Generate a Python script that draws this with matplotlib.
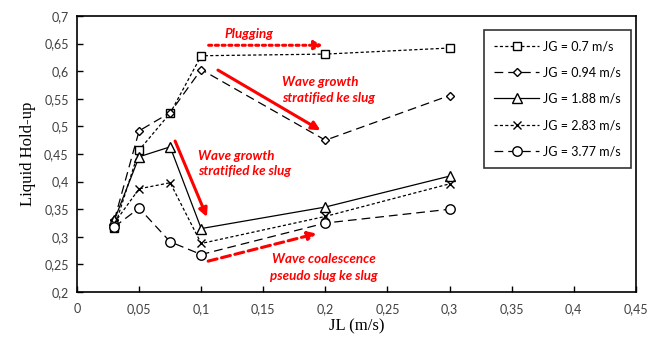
import numpy as np
import matplotlib
matplotlib.use('Agg')
import matplotlib.pyplot as plt
from matplotlib.ticker import FuncFormatter

# superficial liquid velocity (m/s)
jl = [0.03, 0.05, 0.075, 0.1, 0.2, 0.3]

# liquid hold-up per gas velocity
hl_070 = [0.316, 0.457, 0.524, 0.628, 0.631, 0.642]
hl_094 = [0.330, 0.492, 0.525, 0.603, 0.475, 0.556]
hl_188 = [0.330, 0.445, 0.463, 0.315, 0.354, 0.410]
hl_283 = [0.325, 0.387, 0.398, 0.288, 0.337, 0.396]
hl_377 = [0.318, 0.352, 0.291, 0.268, 0.325, 0.350]

labels = ['JG = 0.7 m/s', 'JG = 0.94 m/s', 'JG = 1.88 m/s', 'JG = 2.83 m/s', 'JG = 3.77 m/s']

x_ticks = [0, 0.05, 0.1, 0.15, 0.2, 0.25, 0.3, 0.35, 0.4, 0.45]
y_ticks = [0.2, 0.25, 0.3, 0.35, 0.4, 0.45, 0.5, 0.55, 0.6, 0.65, 0.7]

plt.rcParams['font.family'] = ['Lato', 'DejaVu Sans']

fig = plt.figure(figsize=(6.61, 3.44), dpi=100)
ax = fig.add_axes([0.1165, 0.151, 0.8455, 0.8025])

fine = (0, (2.5, 1.8))
longd = (0, (7, 4))
# series styles: (data, marker, markersize, linestyle)
styles = [
    (hl_070, 's', 6, fine),
    (hl_094, 'D', 4.3, longd),
    (hl_188, '^', 6.8, '-'),
    (hl_283, 'x', 5.5, fine),
    (hl_377, 'o', 6.8, longd),
]
for (data, mk, ms, ls), lab in zip(styles, labels):
    ax.plot(jl, data, color='black', linestyle=ls, linewidth=0.9, marker=mk,
            markersize=ms, markerfacecolor='white', markeredgecolor='black',
            markeredgewidth=1.0, label=lab)

ax.set_xlim(0, 0.45)
ax.set_ylim(0.2, 0.7)
ax.set_xticks(x_ticks)
ax.set_yticks(y_ticks)
comma = FuncFormatter(lambda v, p: ('%g' % round(v, 3)).replace('.', ','))
ax.xaxis.set_major_formatter(comma)
ax.yaxis.set_major_formatter(comma)
ax.tick_params(direction='in', length=4, width=1, labelsize=9, colors='black')
ax.tick_params(axis='x', pad=8)
ax.tick_params(axis='y', pad=6)
ax.tick_params(labelcolor='#404040')
for s in ax.spines.values():
    s.set_linewidth(1.2)

ax.set_xlabel('JL (m/s)', fontsize=12, family='Liberation Serif', labelpad=2)
ax.set_ylabel('Liquid Hold-up', fontsize=12, family='Liberation Serif', labelpad=6)

leg = ax.legend(loc='upper right', bbox_to_anchor=(0.991, 0.949), fontsize=9,
                frameon=True, fancybox=False, edgecolor='black', handlelength=3.6,
                handletextpad=0.3, labelspacing=1.15, borderpad=0.8,
                borderaxespad=0)
leg.get_frame().set_linewidth(1.2)

red = '#ff0000'
tkw = dict(color=red, fontsize=9.6, fontweight='bold', fontstyle='italic')

# plugging
ax.annotate('', xy=(0.198, 0.647), xytext=(0.106, 0.647),
            arrowprops=dict(arrowstyle='-|>,head_length=0.5,head_width=0.25', color=red,
                            lw=2.2, linestyle=(0, (1, 1.2)), shrinkA=0, shrinkB=0))
ax.text(0.119, 0.667, 'Plugging', ha='left', va='center', **tkw)

# upper wave growth
ax.annotate('', xy=(0.196, 0.493), xytext=(0.1135, 0.602),
            arrowprops=dict(arrowstyle='-|>,head_length=0.5,head_width=0.25', color=red,
                            lw=2.2, shrinkA=0, shrinkB=0))
ax.text(0.165, 0.58, 'Wave growth', ha='left', va='center', **tkw)
ax.text(0.165, 0.551, 'stratified ke slug', ha='left', va='center', **tkw)

# lower wave growth
ax.annotate('', xy=(0.1046, 0.336), xytext=(0.079, 0.4735),
            arrowprops=dict(arrowstyle='-|>,head_length=0.5,head_width=0.25', color=red,
                            lw=2.2, shrinkA=0, shrinkB=0))
ax.text(0.0976, 0.446, 'Wave growth', ha='left', va='center', **tkw)
ax.text(0.0976, 0.419, 'stratified ke slug', ha='left', va='center', **tkw)

# wave coalescence
ax.annotate('', xy=(0.193, 0.306), xytext=(0.1056, 0.256),
            arrowprops=dict(arrowstyle='-|>,head_length=0.5,head_width=0.25', color=red,
                            lw=2.2, linestyle=(0, (3, 1.5)), shrinkA=0, shrinkB=0))
ax.text(0.157, 0.26, 'Wave coalescence', ha='left', va='center', **tkw)
ax.text(0.155, 0.229, 'pseudo slug ke slug', ha='left', va='center', **tkw)

fig.savefig('out.png', dpi=100)
